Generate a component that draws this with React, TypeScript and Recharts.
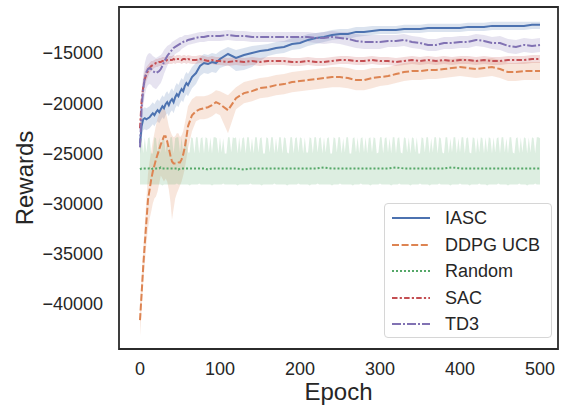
import { ComposedChart, Line, Area, XAxis, YAxis, ReferenceArea } from "recharts"

// rewards are in thousands; epochs shared by the smooth series
const EPOCHS = [
  0, 2, 4, 6, 8, 10, 12, 14, 16, 18,
  20, 22, 24, 26, 28, 30, 32, 34, 36, 38,
  40, 42, 44, 46, 48, 50, 52, 54, 56, 58,
  60, 65, 70, 75, 80, 85, 90, 95, 100,
  110, 120, 130, 140, 150, 160, 170, 180, 190, 200,
  210, 220, 230, 240, 250, 260, 270, 280, 290, 300,
  310, 320, 330, 340, 350, 360, 370, 380, 390, 400,
  410, 420, 430, 440, 450, 460, 470, 480, 490, 500,
]

const IASC_MEAN = [
  -24.0, -22.3, -21.6, -21.5, -21.6, -21.5, -21.4, -21.2, -21.0, -21.2,
  -20.9, -20.7, -20.9, -20.6, -20.3, -20.5, -20.1, -19.9, -20.2, -19.8,
  -19.6, -19.9, -19.4, -19.1, -19.3, -18.9, -18.6, -18.8, -18.3, -18.0,
  -18.2, -17.4, -17.0, -16.3, -16.0, -16.1, -15.9, -16.0, -15.6,
  -15.1, -15.5, -15.2, -15.0, -14.8, -14.7, -14.5, -14.4, -14.1, -14.0,
  -13.7, -13.5, -13.4, -13.2, -13.1, -13.1, -12.9, -12.9, -12.8, -12.7,
  -12.7, -12.7, -12.6, -12.6, -12.6, -12.5, -12.5, -12.5, -12.5, -12.5,
  -12.4, -12.4, -12.4, -12.3, -12.3, -12.3, -12.3, -12.3, -12.2, -12.2,
]
const IASC_LO = [
  -25.0, -23.4, -22.7, -22.6, -22.7, -22.6, -22.5, -22.3, -22.1, -22.3,
  -22.0, -21.8, -22.0, -21.7, -21.4, -21.6, -21.2, -21.0, -21.3, -20.9,
  -20.7, -21.0, -20.5, -20.2, -20.4, -20.0, -19.7, -19.9, -19.4, -19.1,
  -19.3, -18.5, -18.1, -17.3, -17.0, -17.1, -16.9, -17.0, -16.5,
  -16.2, -16.8, -16.7, -16.4, -15.8, -15.3, -15.1, -15.0, -14.7, -14.6,
  -14.3, -14.1, -13.9, -13.7, -13.6, -13.6, -13.4, -13.3, -13.2, -13.1,
  -13.1, -13.1, -13.0, -13.0, -13.0, -12.9, -12.9, -12.9, -12.9, -12.9,
  -12.8, -12.8, -12.8, -12.7, -12.7, -12.7, -12.7, -12.7, -12.6, -12.6,
]
const IASC_HI = [
  -23.0, -21.2, -20.5, -20.4, -20.5, -20.4, -20.3, -20.1, -19.9, -20.1,
  -19.8, -19.6, -19.8, -19.5, -19.2, -19.4, -19.0, -18.8, -19.1, -18.7,
  -18.5, -18.8, -18.3, -18.0, -18.2, -17.8, -17.5, -17.7, -17.2, -16.9,
  -17.1, -16.4, -16.0, -15.4, -15.1, -15.2, -15.0, -15.1, -14.8,
  -14.4, -14.7, -14.5, -14.3, -14.2, -14.1, -13.9, -13.8, -13.5, -13.4,
  -13.1, -13.0, -12.9, -12.7, -12.6, -12.6, -12.4, -12.4, -12.3, -12.3,
  -12.3, -12.3, -12.2, -12.2, -12.2, -12.1, -12.1, -12.1, -12.1, -12.1,
  -12.0, -12.0, -12.0, -11.9, -11.9, -11.9, -11.9, -11.9, -11.9, -11.9,
]

const DDPG_MEAN = [
  -41.6, -39.0, -36.3, -34.0, -31.8, -29.6, -28.6, -27.6, -26.8, -26.2,
  -25.6, -25.1, -24.6, -24.1, -23.7, -23.3, -23.3, -23.8, -24.5, -25.2,
  -25.8, -26.0, -26.0, -26.0, -25.9, -25.9, -25.6, -25.1, -24.4, -23.4,
  -22.3, -21.2, -20.8, -20.6, -20.5, -20.4, -20.2, -19.9, -20.1,
  -20.7, -19.5, -19.0, -18.8, -18.5, -18.4, -18.2, -18.1, -17.9, -17.8,
  -17.7, -17.6, -17.5, -17.4, -17.4, -17.5, -17.7, -17.7, -17.5, -17.4,
  -17.3, -17.1, -16.9, -16.8, -16.8, -16.7, -16.7, -16.6, -16.5, -16.4,
  -16.5, -16.6, -16.5, -16.4, -16.6, -16.9, -16.9, -16.8, -16.8, -16.8,
]
const DDPG_LO = [
  -43.2, -40.6, -38.0, -36.0, -34.0, -32.5, -31.5, -30.8, -30.0, -29.5,
  -29.3, -28.8, -28.0, -27.2, -27.5, -27.8, -27.5, -27.8, -28.6, -29.8,
  -31.6, -30.5, -29.5, -29.0, -28.6, -28.2, -27.8, -27.2, -26.5, -25.5,
  -24.5, -22.8, -21.8, -21.6, -21.6, -21.5, -21.3, -21.0, -21.2,
  -23.0, -20.6, -20.0, -19.8, -19.5, -19.4, -19.2, -19.1, -18.9, -18.8,
  -18.7, -18.6, -18.5, -18.4, -18.4, -18.5, -18.7, -18.7, -18.5, -18.3,
  -18.2, -18.0, -17.8, -17.7, -17.7, -17.6, -17.6, -17.5, -17.4, -17.3,
  -17.4, -17.5, -17.4, -17.3, -17.5, -17.8, -17.8, -17.7, -17.7, -17.7,
]
const DDPG_HI = [
  -40.0, -37.4, -34.6, -32.0, -29.6, -27.0, -25.8, -24.8, -23.8, -23.0,
  -22.2, -21.5, -21.0, -20.8, -20.6, -20.5, -20.8, -21.5, -22.3, -22.8,
  -23.2, -23.4, -23.3, -23.0, -23.0, -23.4, -23.2, -22.8, -22.0, -21.2,
  -20.3, -19.6, -19.3, -19.3, -19.3, -19.2, -19.0, -18.7, -18.8,
  -19.2, -18.4, -17.9, -17.7, -17.5, -17.4, -17.2, -17.1, -16.9, -16.8,
  -16.7, -16.6, -16.5, -16.4, -16.4, -16.5, -16.7, -16.7, -16.5, -16.5,
  -16.4, -16.2, -16.0, -15.9, -15.9, -15.8, -15.8, -15.7, -15.6, -15.5,
  -15.6, -15.7, -15.6, -15.5, -15.7, -16.0, -16.0, -15.9, -15.9, -15.9,
]

const SAC_MEAN = [
  -22.5, -19.8, -18.4, -17.6, -17.1, -16.8, -16.5, -16.3, -16.2, -16.1,
  -16.0, -16.0, -15.9, -15.9, -15.8, -15.8, -15.8, -15.7, -15.7, -15.7,
  -15.7, -15.6, -15.7, -15.6, -15.6, -15.6, -15.7, -15.6, -15.6, -15.7,
  -15.6, -15.7, -15.7, -15.6, -15.7, -15.8, -15.7, -15.8, -15.8,
  -15.9, -15.8, -15.9, -15.8, -15.9, -15.8, -15.8, -15.8, -15.9, -15.9,
  -15.8, -15.9, -15.9, -15.8, -15.7, -15.7, -15.8, -15.8, -15.7, -15.8,
  -15.8, -15.9, -15.8, -15.7, -15.8, -15.7, -15.8, -15.7, -15.8, -15.7,
  -15.7, -15.8, -15.7, -15.8, -15.8, -15.7, -15.7, -15.7, -15.6, -15.6,
]
const SAC_LO = [
  -23.3, -20.8, -19.3, -18.4, -17.8, -17.4, -17.0, -16.8, -16.6, -16.5,
  -16.4, -16.4, -16.3, -16.3, -16.2, -16.2, -16.2, -16.1, -16.1, -16.1,
  -16.1, -16.0, -16.1, -16.0, -16.0, -16.0, -16.1, -16.0, -16.0, -16.1,
  -16.0, -16.1, -16.1, -16.0, -16.1, -16.2, -16.1, -16.2, -16.2,
  -16.3, -16.2, -16.3, -16.2, -16.3, -16.2, -16.2, -16.2, -16.3, -16.3,
  -16.2, -16.3, -16.3, -16.2, -16.1, -16.1, -16.2, -16.2, -16.1, -16.2,
  -16.2, -16.3, -16.2, -16.1, -16.2, -16.1, -16.2, -16.1, -16.2, -16.1,
  -16.1, -16.2, -16.1, -16.2, -16.2, -16.1, -16.1, -16.1, -16.0, -16.0,
]
const SAC_HI = [
  -21.7, -18.8, -17.5, -16.8, -16.4, -16.2, -16.0, -15.8, -15.8, -15.7,
  -15.6, -15.6, -15.5, -15.5, -15.4, -15.4, -15.4, -15.3, -15.3, -15.3,
  -15.3, -15.2, -15.3, -15.2, -15.2, -15.2, -15.3, -15.2, -15.2, -15.3,
  -15.2, -15.3, -15.3, -15.2, -15.3, -15.4, -15.3, -15.4, -15.4,
  -15.5, -15.4, -15.5, -15.4, -15.5, -15.4, -15.4, -15.4, -15.5, -15.5,
  -15.4, -15.5, -15.5, -15.4, -15.3, -15.3, -15.4, -15.4, -15.3, -15.4,
  -15.4, -15.5, -15.4, -15.3, -15.4, -15.3, -15.4, -15.3, -15.4, -15.3,
  -15.3, -15.4, -15.3, -15.4, -15.4, -15.3, -15.3, -15.3, -15.2, -15.2,
]

const TD3_MEAN = [
  -24.4, -20.5, -18.6, -17.5, -16.9, -16.6, -16.5, -16.6, -16.8, -16.9,
  -17.0, -16.9, -16.8, -16.6, -16.3, -15.9, -15.6, -15.3, -15.1, -14.9,
  -14.7, -14.5, -14.4, -14.3, -14.2, -14.1, -14.0, -13.9, -13.8, -13.8,
  -13.7, -13.6, -13.5, -13.4, -13.4, -13.3, -13.3, -13.3, -13.3,
  -13.2, -13.3, -13.3, -13.4, -13.4, -13.4, -13.4, -13.4, -13.4, -13.4,
  -13.4, -13.5, -13.5, -13.4, -13.5, -13.6, -13.8, -13.9, -13.9, -13.9,
  -13.8, -13.8, -13.7, -13.9, -14.0, -14.2, -14.2, -14.0, -14.0, -13.9,
  -13.9, -13.7, -13.8, -14.0, -14.0, -14.3, -14.4, -14.2, -14.3, -14.2,
]
const TD3_LO = [
  -25.2, -22.0, -20.3, -19.2, -18.5, -18.2, -18.1, -18.2, -18.4, -18.5,
  -18.6, -18.4, -18.2, -18.0, -17.6, -17.1, -16.7, -16.3, -16.0, -15.7,
  -15.5, -15.3, -15.1, -15.0, -14.9, -14.8, -14.6, -14.5, -14.4, -14.3,
  -14.2, -14.1, -14.0, -13.9, -13.9, -13.8, -13.8, -13.8, -13.8,
  -13.7, -13.8, -13.8, -13.9, -13.9, -13.9, -13.9, -13.9, -13.9, -13.9,
  -13.9, -14.0, -14.1, -14.0, -14.1, -14.3, -14.5, -14.6, -14.6, -14.6,
  -14.4, -14.4, -14.3, -14.5, -14.6, -14.8, -14.8, -14.6, -14.6, -14.5,
  -14.5, -14.3, -14.4, -14.6, -14.7, -15.0, -15.1, -14.9, -15.0, -14.9,
]
const TD3_HI = [
  -23.6, -19.2, -17.2, -16.0, -15.4, -15.1, -15.0, -15.1, -15.3, -15.4,
  -15.5, -15.4, -15.3, -15.2, -15.0, -14.7, -14.5, -14.3, -14.2, -14.1,
  -13.9, -13.8, -13.7, -13.6, -13.5, -13.4, -13.4, -13.3, -13.2, -13.2,
  -13.2, -13.1, -13.0, -12.9, -12.9, -12.8, -12.8, -12.8, -12.8,
  -12.7, -12.8, -12.8, -12.9, -12.9, -12.9, -12.9, -12.9, -12.9, -12.9,
  -12.9, -13.0, -12.9, -12.8, -12.9, -12.9, -13.1, -13.2, -13.2, -13.2,
  -13.2, -13.2, -13.1, -13.3, -13.4, -13.6, -13.6, -13.4, -13.4, -13.3,
  -13.3, -13.1, -13.2, -13.4, -13.3, -13.6, -13.7, -13.5, -13.6, -13.5,
]

const RANDOM_MEAN = [
  -26.6, -26.5, -26.5, -26.5, -26.5, -26.5, -26.5, -26.6, -26.5, -26.5,
  -26.5, -26.5, -26.5, -26.4, -26.5, -26.5, -26.5, -26.5, -26.5, -26.5,
  -26.5, -26.5, -26.5, -26.5, -26.6, -26.5, -26.5, -26.5, -26.5, -26.5,
  -26.5, -26.5, -26.5, -26.5, -26.5, -26.6, -26.5, -26.5, -26.5,
  -26.5, -26.5, -26.6, -26.5, -26.5, -26.5, -26.5, -26.5, -26.5, -26.5,
  -26.5, -26.5, -26.4, -26.5, -26.5, -26.5, -26.5, -26.5, -26.5, -26.5,
  -26.5, -26.4, -26.5, -26.5, -26.5, -26.5, -26.5, -26.5, -26.4, -26.5,
  -26.5, -26.5, -26.5, -26.5, -26.5, -26.5, -26.5, -26.5, -26.5, -26.5,
]

// the random band flickers every epoch or two, so it gets its own grid (every 2 epochs)
const RANDOM_BAND_STEP = 2
const RANDOM_HI = [
  -23.5, -23.4, -25.0, -23.4, -24.9, -23.5, -23.4, -25.0, -25.0, -23.4, -23.5, -24.9, -23.4, -25.0, -23.4, -23.4, -24.9, -23.5, -25.0, -23.4,
  -23.4, -25.0, -23.5, -23.4, -23.4, -24.9, -23.4, -25.0, -23.5, -23.4, -24.9, -24.9, -23.4, -23.5, -25.0, -23.4, -23.4, -25.0, -23.5, -23.4,
  -25.0, -23.4, -23.5, -24.9, -23.4, -25.0, -23.4, -23.4, -23.5, -25.0, -23.4, -24.9, -23.5, -25.0, -25.0, -23.4, -23.4, -24.9, -23.4, -23.5,
  -23.4, -25.0, -23.4, -24.9, -23.5, -23.4, -25.0, -23.4, -23.4, -24.9, -23.5, -25.0, -23.4, -23.4, -24.9, -23.5, -23.4, -25.0, -25.0, -23.4,
  -23.5, -24.9, -23.4, -23.4, -25.0, -23.5, -24.9, -23.4, -23.4, -25.0, -23.4, -23.5, -24.9, -25.0, -23.4, -23.4, -25.0, -23.5, -23.4, -24.9,
  -23.4, -23.5, -25.0, -23.4, -24.9, -24.9, -23.4, -23.5, -25.0, -23.4, -23.4, -24.9, -23.5, -23.4, -25.0, -23.4, -24.9, -23.5, -23.4, -25.0,
  -25.0, -23.4, -23.5, -24.9, -23.4, -23.4, -25.0, -23.5, -24.9, -23.4, -23.4, -25.0, -25.0, -23.5, -23.4, -24.9, -23.4, -25.0, -23.5, -23.4,
  -24.9, -23.4, -25.0, -23.5, -23.4, -24.9, -23.4, -23.5, -25.0, -24.9, -23.4, -23.4, -25.0, -23.5, -23.4, -24.9, -23.5, -25.0, -23.4, -23.4,
  -25.0, -23.5, -23.4, -24.9, -25.0, -23.4, -23.5, -24.9, -23.4, -25.0, -23.4, -23.5, -24.9, -23.4, -25.0, -25.0, -23.4, -23.5, -24.9, -23.4,
  -23.4, -25.0, -23.5, -24.9, -23.4, -23.4, -25.0, -23.4, -23.5, -24.9, -25.0, -23.4, -23.4, -25.0, -23.5, -24.9, -23.4, -23.4, -25.0, -23.5,
  -24.9, -23.4, -23.4, -25.0, -23.5, -23.4, -24.9, -25.0, -23.4, -23.5, -25.0, -23.4, -24.9, -23.4, -23.5, -25.0, -23.4, -24.9, -23.4, -23.5,
  -25.0, -23.4, -24.9, -23.5, -23.4, -25.0, -23.4, -23.4, -24.9, -23.5, -25.0, -23.4, -23.4, -24.9, -25.0, -23.5, -23.4, -25.0, -23.4, -24.9,
  -23.4, -23.5, -25.0, -23.4, -24.9, -23.4, -23.5, -25.0, -23.4, -23.4, -23.5,
]
const RANDOM_LO = [
  -28.1, -28.1, -28.1, -28.1, -28.1, -28.1, -28.0, -28.1, -28.1, -28.1, -28.1, -28.1, -28.1, -28.1, -28.2, -28.1, -28.1, -28.1, -28.1, -28.1,
  -28.1, -28.1, -28.1, -28.0, -28.1, -28.1, -28.1, -28.1, -28.1, -28.1, -28.1, -28.2, -28.1, -28.1, -28.1, -28.1, -28.1, -28.0, -28.1, -28.1,
  -28.1, -28.1, -28.1, -28.1, -28.1, -28.2, -28.1, -28.1, -28.1, -28.1, -28.1, -28.1, -28.0, -28.1, -28.1, -28.1, -28.1, -28.1, -28.1, -28.1,
  -28.1, -28.2, -28.1, -28.1, -28.1, -28.1, -28.1, -28.1, -28.1, -28.0, -28.1, -28.1, -28.1, -28.1, -28.1, -28.1, -28.2, -28.1, -28.1, -28.1,
  -28.1, -28.1, -28.1, -28.1, -28.0, -28.1, -28.1, -28.1, -28.1, -28.1, -28.1, -28.1, -28.2, -28.1, -28.1, -28.1, -28.1, -28.1, -28.1, -28.0,
  -28.1, -28.1, -28.1, -28.1, -28.1, -28.1, -28.2, -28.1, -28.1, -28.1, -28.1, -28.0, -28.1, -28.1, -28.1, -28.1, -28.1, -28.1, -28.1, -28.1,
  -28.2, -28.1, -28.1, -28.1, -28.1, -28.0, -28.1, -28.1, -28.1, -28.1, -28.1, -28.1, -28.1, -28.2, -28.1, -28.1, -28.1, -28.1, -28.0, -28.1,
  -28.1, -28.1, -28.1, -28.1, -28.2, -28.1, -28.1, -28.1, -28.1, -28.1, -28.0, -28.1, -28.1, -28.1, -28.1, -28.1, -28.1, -28.2, -28.1, -28.1,
  -28.1, -28.1, -28.0, -28.1, -28.1, -28.1, -28.1, -28.1, -28.1, -28.2, -28.1, -28.1, -28.1, -28.1, -28.1, -28.0, -28.1, -28.1, -28.1, -28.1,
  -28.1, -28.2, -28.1, -28.1, -28.1, -28.1, -28.1, -28.0, -28.1, -28.1, -28.1, -28.1, -28.1, -28.1, -28.2, -28.1, -28.1, -28.1, -28.1, -28.1,
  -28.0, -28.1, -28.1, -28.1, -28.1, -28.1, -28.2, -28.1, -28.1, -28.1, -28.1, -28.1, -28.0, -28.1, -28.1, -28.1, -28.1, -28.2, -28.1, -28.1,
  -28.1, -28.1, -28.1, -28.1, -28.0, -28.1, -28.1, -28.1, -28.1, -28.1, -28.2, -28.1, -28.1, -28.1, -28.1, -28.1, -28.1, -28.0, -28.1, -28.1,
  -28.1, -28.1, -28.2, -28.1, -28.1, -28.1, -28.1, -28.0, -28.1, -28.1, -28.1,
]

const X_TICKS = [0, 100, 200, 300, 400, 500]
const Y_TICKS = [-40, -35, -30, -25, -20, -15]
const X_DOMAIN: [number, number] = [-26.25, 522.5]
const Y_DOMAIN: [number, number] = [-44.48, -10.42]

const FONT = "'Liberation Sans', Arial, Helvetica, sans-serif"
const INK = "#262626"
const LINE_W = 2

type Series = {
  name: string
  color: string
  dash?: string
  mean: number[]
  lo?: number[]
  hi?: number[]
}

const SERIES: Series[] = [
  { name: "IASC", color: "#4C72B0", mean: IASC_MEAN, lo: IASC_LO, hi: IASC_HI },
  { name: "DDPG UCB", color: "#DD8452", dash: "7 2.6", mean: DDPG_MEAN, lo: DDPG_LO, hi: DDPG_HI },
  { name: "Random", color: "#55A868", dash: "2 2", mean: RANDOM_MEAN },
  { name: "SAC", color: "#C44E52", dash: "5.5 2.2 2.2 2.2", mean: SAC_MEAN, lo: SAC_LO, hi: SAC_HI },
  { name: "TD3", color: "#8172B3", dash: "9 2 2 2", mean: TD3_MEAN, lo: TD3_LO, hi: TD3_HI },
]

const lineData = (s: Series) => EPOCHS.map((epoch, i) => ({ epoch, value: s.mean[i] }))
const bandData = (s: Series) =>
  EPOCHS.map((epoch, i) => ({ epoch, band: [s.lo![i], s.hi![i]] }))
const randomBand = RANDOM_HI.map((hi, i) => ({
  epoch: i * RANDOM_BAND_STEP,
  band: [RANDOM_LO[i], hi],
}))

const fmtReward = (v: number) => String(Math.round(v * 1000)).replace("-", "\u2212")

function LegendBox() {
  return (
    <div
      style={{
        position: "absolute",
        left: 384,
        top: 203,
        width: 168,
        height: 135,
        boxSizing: "border-box",
        border: "1px solid #d6d6d6",
        borderRadius: 4,
        background: "rgba(255,255,255,0.85)",
        fontFamily: FONT,
        fontSize: 18,
        color: INK,
        paddingTop: 1,
      }}
    >
      {SERIES.map((s) => (
        <div key={s.name} style={{ display: "flex", alignItems: "center", height: 26.5 }}>
          <svg width={60} height={10} style={{ flex: "none" }}>
            <line
              x1={7}
              x2={45}
              y1={5}
              y2={5}
              stroke={s.color}
              strokeWidth={LINE_W}
              strokeDasharray={s.dash}
            />
          </svg>
          <span style={{ lineHeight: "20px" }}>{s.name}</span>
        </div>
      ))}
    </div>
  )
}

export default function App() {
  return (
    <div style={{ position: "absolute", left: 0, top: 0, width: 562, height: 411, background: "#fff" }}>
      <ComposedChart width={562} height={411} margin={{ top: 7, right: 4, bottom: 0, left: 0 }}>
        <XAxis
          dataKey="epoch"
          type="number"
          domain={X_DOMAIN}
          ticks={X_TICKS}
          allowDataOverflow
          axisLine={false}
          tickLine={false}
          tickSize={0}
          tickMargin={13}
          height={62}
          tick={{ fill: INK, fontSize: 18, fontFamily: FONT }}
          label={{
            content: () => (
              <text x={338.5} y={400} textAnchor="middle" fill={INK} fontSize={24} fontFamily={FONT}>
                Epoch
              </text>
            ),
          }}
        />
        <YAxis
          type="number"
          domain={Y_DOMAIN}
          ticks={Y_TICKS}
          allowDataOverflow
          axisLine={false}
          tickLine={false}
          tickSize={0}
          tickMargin={16}
          width={119}
          tickFormatter={fmtReward}
          tick={{ fill: INK, fontSize: 18, fontFamily: FONT }}
          label={{
            content: () => (
              <text
                x={33}
                y={178}
                transform="rotate(-90 33 178)"
                textAnchor="middle"
                fill={INK}
                fontSize={24}
                fontFamily={FONT}
              >
                Rewards
              </text>
            ),
          }}
        />

        {SERIES.map((s) => (
          <Area
            key={`band-${s.name}`}
            data={s.lo ? bandData(s) : randomBand}
            dataKey="band"
            type="linear"
            stroke="none"
            fill={s.color}
            fillOpacity={0.2}
            isAnimationActive={false}
            activeDot={false}
          />
        ))}

        {SERIES.map((s) => (
          <Line
            key={s.name}
            data={lineData(s)}
            dataKey="value"
            type="linear"
            stroke={s.color}
            strokeWidth={LINE_W}
            strokeDasharray={s.dash}
            dot={false}
            activeDot={false}
            isAnimationActive={false}
          />
        ))}

        <ReferenceArea
          x1={X_DOMAIN[0]}
          x2={X_DOMAIN[1]}
          y1={Y_DOMAIN[0]}
          y2={Y_DOMAIN[1]}
          fill="none"
          stroke="#2b2b2b"
          strokeWidth={1.8}
          ifOverflow="visible"
        />
      </ComposedChart>
      <LegendBox />
    </div>
  )
}
